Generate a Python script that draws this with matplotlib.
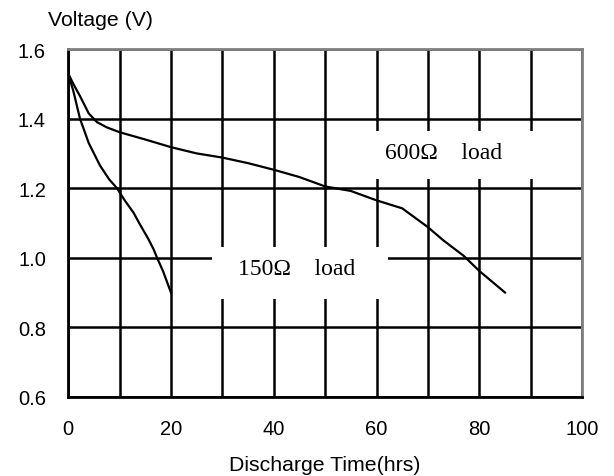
import matplotlib.pyplot as plt
from matplotlib.patches import Rectangle

# discharge curves
t_600 = [0, 1, 2.3, 4, 5.6, 7.5, 10, 15, 20, 25, 30, 35, 40, 45, 50, 55, 60, 65, 70, 73, 77, 80, 85]
v_600 = [1.53, 1.50, 1.465, 1.415, 1.39, 1.375, 1.361, 1.34, 1.318, 1.30, 1.288, 1.272, 1.253, 1.232, 1.205, 1.192, 1.165, 1.142, 1.088, 1.05, 1.005, 0.962, 0.90]

t_150 = [0, 1, 2.3, 4, 6.2, 8, 9.5, 11, 12.7, 14, 15.6, 16.6, 17.3, 18.5, 20]
v_150 = [1.53, 1.48, 1.40, 1.33, 1.265, 1.225, 1.20, 1.165, 1.13, 1.095, 1.054, 1.025, 1.0, 0.96, 0.90]

xticks = [0, 20, 40, 60, 80, 100]
yticks = [0.6, 0.8, 1.0, 1.2, 1.4, 1.6]

plt.rcParams['font.family'] = ['Liberation Sans', 'DejaVu Sans']

fig = plt.figure(figsize=(6.14, 4.77), dpi=100)
ax = fig.add_axes([0.111, 0.166, 0.837, 0.729])

ax.plot(t_600, v_600, color='black', lw=1.6, zorder=3)
ax.plot(t_150, v_150, color='black', lw=1.6, zorder=3)

ax.set_xlim(0, 100)
ax.set_ylim(0.6, 1.6)
ax.set_xticks(xticks)
ax.set_xticks(range(0, 101, 10), minor=True)
ax.set_yticks(yticks)
ax.set_yticklabels(['%.1f' % y for y in yticks])
ax.tick_params(which='both', length=0, labelsize=14.5)
ax.tick_params(axis='y', pad=16)
ax.tick_params(axis='x', pad=16)

ax.set_axisbelow(True)
ax.grid(True, which='both', color='black', lw=1.8)

for side in ['left', 'bottom']:
    ax.spines[side].set_color('black')
    ax.spines[side].set_linewidth(2)
for side in ['top', 'right']:
    ax.spines[side].set_color('#808080')
    ax.spines[side].set_linewidth(2)

# white label boxes covering the grid
ax.add_patch(Rectangle((28, 0.882), 34.3, 0.149, fc='white', ec='none', zorder=2))
ax.add_patch(Rectangle((52, 1.226), 43, 0.138, fc='white', ec='none', zorder=2))
ax.text(44.4, 0.968, '150\u03a9    load', ha='center', va='center',
        family='Liberation Serif', fontsize=17, zorder=4)
ax.text(73, 1.304, '600\u03a9    load', ha='center', va='center',
        family='Liberation Serif', fontsize=17, zorder=4)

fig.text(0.078, 0.958, 'Voltage (V)', ha='left', va='center', fontsize=15.3)
ax.set_xlabel('Discharge Time(hrs)', fontsize=15.3, labelpad=12)

fig.savefig('out.png', dpi=100)
